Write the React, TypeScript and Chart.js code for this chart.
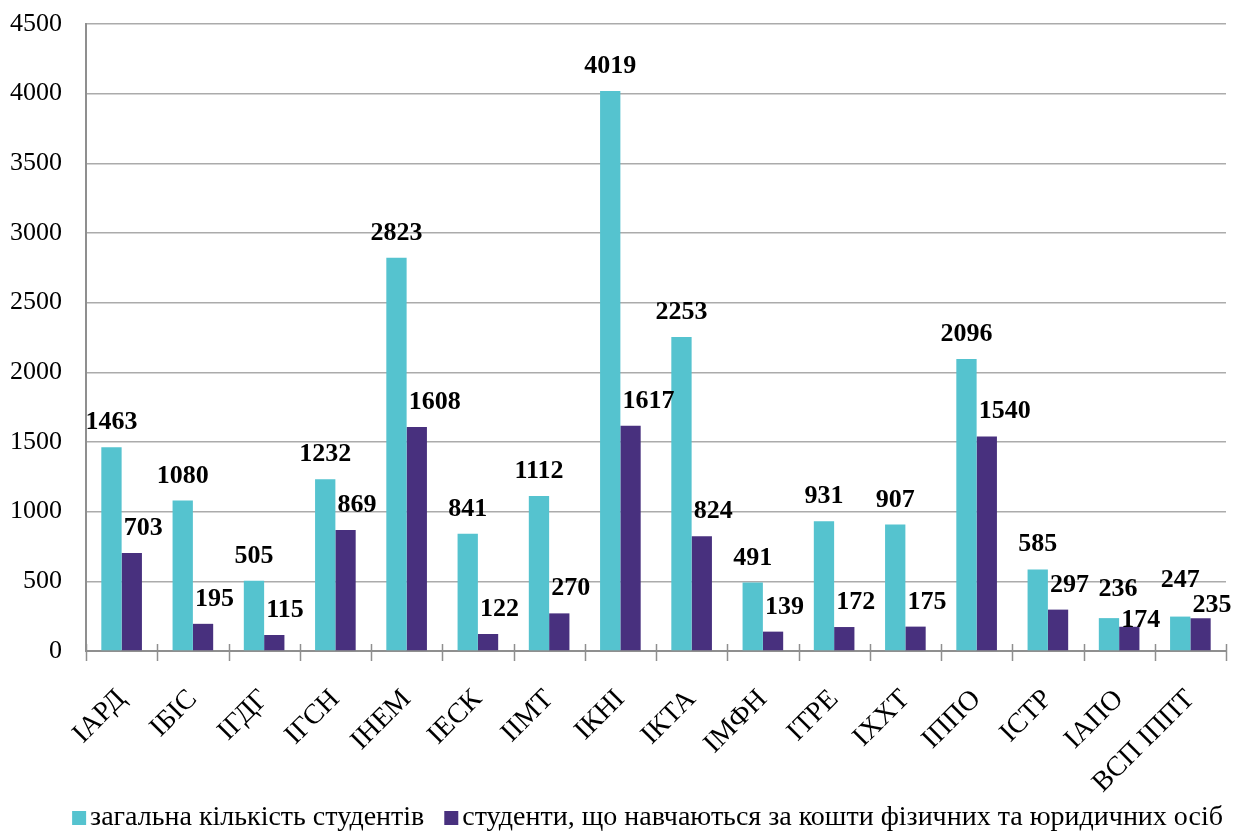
import React, { useEffect, useRef } from "react";
import { Chart, registerables } from "chart.js";

Chart.register(...registerables);

const categories = [
  "ІАРД", "ІБІС", "ІГДГ", "ІГСН", "ІНЕМ", "ІЕСК", "ІІМТ", "ІКНІ",
  "ІКТА", "ІМФН", "ІТРЕ", "ІХХТ", "ІППО", "ІСТР", "ІАПО", "ВСП ІППТ",
];
const totalStudents = [1463, 1080, 505, 1232, 2823, 841, 1112, 4019, 2253, 491, 931, 907, 2096, 585, 236, 247];
const paidStudents = [703, 195, 115, 869, 1608, 122, 270, 1617, 824, 139, 172, 175, 1540, 297, 174, 235];
const seriesNames = [
  "загальна кількість студентів",
  "студенти, що навчаються за кошти фізичних та юридичних осіб",
];
const yTicks = { min: 0, max: 4500, step: 500 };

// label styling (gap above bar top, in px)
const gapTotal = [18, 18, 18, 18, 18, 18, 18, 18, 18, 18, 18, 18, 18, 18, 22, 30];
const gapPaid = [18, 18, 18, 18, 18, 18, 18, 18, 18, 18, 18, 18, 18, 18, 0, 6];
const dxTotal = [0, 0, 0, 0, 0, 0, 0, 0, 0, 0, 0, 0, 0, 0, 9, 0];

const FONT = '"Liberation Serif", "Times New Roman", serif';
const CYAN = "#55C3CF";
const PURPLE = "#48307E";

const labelPlugin = {
  id: "barLabels",
  afterDatasetsDraw(chart: any) {
    const ctx = chart.ctx;
    ctx.save();
    ctx.font = `bold 26px ${FONT}`;
    ctx.fillStyle = "#000";
    ctx.textBaseline = "alphabetic";
    chart.data.datasets.forEach((ds: any, d: number) => {
      const meta = chart.getDatasetMeta(d);
      meta.data.forEach((bar: any, i: number) => {
        const p = bar.getProps(["x", "y", "width"], true);
        const txt = String(ds.data[i]);
        if (d === 0) {
          ctx.textAlign = "center";
          ctx.fillText(txt, p.x + dxTotal[i], p.y - gapTotal[i]);
        } else {
          ctx.textAlign = "left";
          ctx.fillText(txt, p.x - p.width / 2 + 2, p.y - gapPaid[i]);
        }
      });
    });
    ctx.restore();
  },
};

const tickPlugin = {
  id: "crossTicks",
  afterDraw(chart: any) {
    const ctx = chart.ctx;
    const area = chart.chartArea;
    const n = chart.data.labels.length;
    const w = (area.right - area.left) / n;
    ctx.save();
    ctx.strokeStyle = "#8f8f8f";
    ctx.lineWidth = 1.5;
    for (let i = 0; i <= n; i++) {
      const x = Math.round(area.left + i * w) + 0.5;
      ctx.beginPath();
      ctx.moveTo(x, area.bottom - 7);
      ctx.lineTo(x, area.bottom + 10);
      ctx.stroke();
    }
    ctx.restore();
  },
};

const legendPlugin = {
  id: "bottomLegend",
  afterDraw(chart: any) {
    const ctx = chart.ctx;
    ctx.save();
    ctx.font = `28px ${FONT}`;
    ctx.textBaseline = "middle";
    ctx.textAlign = "left";
    const box = 14;
    const gapText = 4;
    const gapItem = 20;
    const ds = chart.data.datasets;
    const widths = ds.map((d: any) => ctx.measureText(d.label).width);
    const total = widths.reduce((a: number, w: number) => a + box + gapText + w, 0) + gapItem * (ds.length - 1);
    let x = 1223 - total;
    const cy = 818;
    ds.forEach((d: any, i: number) => {
      ctx.fillStyle = d.backgroundColor;
      ctx.fillRect(x, cy - 7, box, box);
      x += box + gapText;
      ctx.fillStyle = "#000";
      ctx.fillText(d.label, x, cy);
      x += widths[i] + gapItem;
    });
    ctx.restore();
  },
};

export default function App() {
  const ref = useRef<HTMLCanvasElement>(null);
  useEffect(() => {
    document.body.style.margin = "0";
    if (!ref.current) return;
    const chart = new Chart(ref.current, {
      type: "bar",
      data: {
        labels: categories,
        datasets: [
          { label: seriesNames[0], data: totalStudents, backgroundColor: CYAN },
          { label: seriesNames[1], data: paidStudents, backgroundColor: PURPLE },
        ],
      },
      options: {
        animation: false,
        responsive: true,
        maintainAspectRatio: false,
        layout: { padding: { top: 0, right: 8, left: 0, bottom: 40 } },
        datasets: { bar: { categoryPercentage: 0.57, barPercentage: 1 } },
        plugins: {
          tooltip: { enabled: false },
          legend: { display: false },
        },
        scales: {
          x: {
            grid: { display: false },
            border: { display: true, color: "#8f8f8f", width: 2 },
            ticks: {
              color: "#000",
              font: { family: FONT, size: 28 },
              minRotation: 45,
              maxRotation: 45,
              padding: 24,
              autoSkip: false,
            },
            afterFit(scale: any) {
              scale.height = 142;
              scale.paddingLeft = 0;
              scale.paddingRight = 0;
            },
          },
          y: {
            min: yTicks.min,
            max: yTicks.max,
            ticks: {
              stepSize: yTicks.step,
              color: "#000",
              font: { family: FONT, size: 26 },
              padding: 24,
              callback: (v: any) => String(v),
            },
            grid: { color: "#ababab", lineWidth: 1.5, drawTicks: false },
            border: { display: true, color: "#8f8f8f", width: 2 },
            afterFit(scale: any) {
              scale.width = 86;
              scale.paddingTop = 24;
              scale.paddingBottom = 0;
            },
          },
        },
      },
      plugins: [labelPlugin, tickPlugin, legendPlugin],
    });
    return () => chart.destroy();
  }, []);
  return (
    <div style={{ width: 1234, height: 833, position: "relative" }}>
      <canvas ref={ref} />
    </div>
  );
}
